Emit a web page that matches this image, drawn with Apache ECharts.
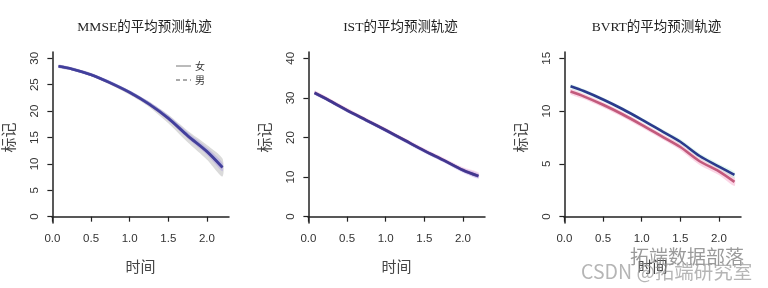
<!DOCTYPE html>
<html><head><meta charset="utf-8">
<script src="https://cdn.jsdelivr.net/npm/echarts@6/dist/echarts.min.js"></script>
<style>html,body{margin:0;padding:0;background:#fff}#c{width:768px;height:288px}</style>
</head><body><div id="c"></div><script>
// ---- data ----
const time = [0.08, 0.25, 0.5, 0.75, 1.0, 1.25, 1.5, 1.75, 2.0, 2.2];
const panelTitles = ['MMSE的平均预测轨迹', 'IST的平均预测轨迹', 'BVRT的平均预测轨迹'];
const seriesNames = ['女', '男'];
const xTicks = [0, 0.5, 1.0, 1.5, 2.0];
const yTicksMMSE = [0, 5, 10, 15, 20, 25, 30];
const yTicksIST = [0, 10, 20, 30, 40];
const yTicksBVRT = [0, 5, 10, 15];

const mmseFemale   = [28.5, 28.0, 26.9, 25.3, 23.5, 21.3, 18.6, 15.3, 12.3, 9.3];
const mmseFemaleLo = [28.2, 27.7, 26.6, 25.0, 23.1, 20.8, 17.7, 14.1, 10.8, 7.6];
const mmseFemaleHi = [28.8, 28.3, 27.2, 25.6, 23.9, 21.8, 19.3, 16.3, 13.6, 11.0];
const mmseMale     = [28.5, 28.0, 26.9, 25.4, 23.6, 21.4, 18.7, 15.4, 12.4, 9.4];
const mmseMaleLo   = [28.2, 27.7, 26.6, 25.1, 23.3, 21.0, 18.2, 14.8, 11.7, 8.6];
const mmseMaleHi   = [28.8, 28.3, 27.2, 25.7, 23.9, 21.8, 19.2, 16.0, 13.1, 10.2];

const istFemale    = [31.3, 29.6, 26.9, 24.4, 21.9, 19.3, 16.7, 14.3, 11.8, 10.3];
const istFemaleLo  = [30.9, 29.2, 26.5, 24.0, 21.5, 18.9, 16.3, 13.8, 11.3, 9.7];
const istFemaleHi  = [31.9, 30.2, 27.5, 24.9, 22.4, 19.8, 17.3, 14.9, 12.5, 11.2];
const istMale      = [31.2, 29.5, 26.8, 24.3, 21.8, 19.2, 16.6, 14.2, 11.7, 10.2];
const istMaleLo    = [30.8, 29.1, 26.4, 23.9, 21.3, 18.7, 16.1, 13.7, 11.1, 9.6];
const istMaleHi    = [31.6, 29.9, 27.2, 24.7, 22.2, 19.6, 17.1, 14.7, 12.3, 10.9];

const bvrtFemale   = [11.85, 11.4, 10.6, 9.7, 8.7, 7.65, 6.6, 5.25, 4.3, 3.3];
const bvrtFemaleLo = [11.6, 11.15, 10.35, 9.45, 8.45, 7.4, 6.3, 4.9, 3.95, 2.9];
const bvrtFemaleHi = [12.1, 11.65, 10.85, 9.95, 8.95, 7.9, 6.9, 5.55, 4.65, 3.7];
const bvrtMale     = [12.35, 11.9, 11.1, 10.2, 9.2, 8.15, 7.1, 5.75, 4.75, 3.95];
const bvrtMaleLo   = [12.15, 11.7, 10.9, 10.0, 9.0, 7.95, 6.85, 5.5, 4.5, 3.65];
const bvrtMaleHi   = [12.55, 12.1, 11.3, 10.4, 9.4, 8.35, 7.35, 6.0, 5.0, 4.25];

// ---- build ----
const panels = [
  {title: panelTitles[0], ticks: yTicksMMSE, f: mmseFemale, fLo: mmseFemaleLo, fHi: mmseFemaleHi, m: mmseMale, mLo: mmseMaleLo, mHi: mmseMaleHi,
   fBand: 'rgba(150,150,150,0.35)', mBand: 'rgba(140,120,235,0.28)', fLine: '#5a4a9a', mLine: '#3a3c9c'},
  {title: panelTitles[1], ticks: yTicksIST, f: istFemale, fLo: istFemaleLo, fHi: istFemaleHi, m: istMale, mLo: istMaleLo, mHi: istMaleHi,
   fBand: 'rgba(240,160,200,0.35)', mBand: 'rgba(150,140,240,0.28)', fLine: '#5a3a8a', mLine: '#3a3590'},
  {title: panelTitles[2], ticks: yTicksBVRT, f: bvrtFemale, fLo: bvrtFemaleLo, fHi: bvrtFemaleHi, m: bvrtMale, mLo: bvrtMaleLo, mHi: bvrtMaleHi,
   fBand: 'rgba(245,150,190,0.40)', mBand: 'rgba(170,235,215,0.35)', fLine: '#c25a7c', mLine: '#2b3a8c'}
];
const lefts = [52, 308, 564];
const gridW = 177, gridTop = 52, gridH = 171;
const pair = (xs, ys) => xs.map((x, i) => [x, ys[i]]);

function bandSeries(k, lo, hi, color) {
  return {
    type: 'custom', xAxisIndex: k, yAxisIndex: k, silent: true, z: 1,
    data: time.map((x, i) => [x, lo[i], hi[i]]),
    renderItem: (params, api) => {
      if (params.dataIndex !== 0) return null;
      const up = time.map((x, i) => api.coord([x, hi[i]]));
      const dn = time.map((x, i) => api.coord([x, lo[i]])).reverse();
      return {type: 'polygon', shape: {points: up.concat(dn), smooth: 0.25},
        style: {fill: color, stroke: null}};
    }
  };
}

const grids = [], xAxes = [], yAxes = [], titles = [], series = [];
const labelColor = '#333';
panels.forEach((p, k) => {
  grids.push({left: lefts[k], top: gridTop, width: gridW, height: gridH});
  titles.push({text: p.title, left: lefts[k] + gridW / 2 - 1, top: 16, textAlign: 'center',
    textStyle: {fontSize: 13.5, fontWeight: 'normal', color: '#222', fontFamily: 'Liberation Serif, Noto Sans CJK SC'}});
  xAxes.push({type: 'value', gridIndex: k, min: -0.005, max: 2.285,
    name: '时间', nameLocation: 'middle', nameGap: 36,
    nameTextStyle: {fontSize: 15, color: '#444', fontFamily: 'Noto Sans CJK SC'},
    axisLine: {show: true, lineStyle: {color: '#222', width: 1.5}},
    axisTick: {show: true, length: 5, lineStyle: {color: '#222', width: 1.2}, customValues: xTicks},
    axisLabel: {customValues: xTicks, margin: 10, fontSize: 11.5, color: labelColor, fontFamily: 'Liberation Sans',
      formatter: v => v.toFixed(1)},
    splitLine: {show: false}});
  const t = p.ticks, top = t[t.length - 1], ext = top * 0.04;
  yAxes.push({type: 'value', gridIndex: k, min: -ext, max: top + ext,
    name: '标记', nameLocation: 'middle', nameGap: 36, nameRotate: 90,
    nameTextStyle: {fontSize: 15, color: '#444', fontFamily: 'Noto Sans CJK SC'},
    axisLine: {show: true, lineStyle: {color: '#222', width: 1.5}},
    axisTick: {show: true, length: 5, lineStyle: {color: '#222', width: 1.2}, customValues: t},
    axisLabel: {customValues: t, rotate: 90, margin: 11, fontSize: 11.5, color: labelColor, fontFamily: 'Liberation Sans'},
    splitLine: {show: false}});
  series.push(bandSeries(k, p.fLo, p.fHi, p.fBand));
  series.push(bandSeries(k, p.mLo, p.mHi, p.mBand));
  series.push({type: 'line', name: seriesNames[0], xAxisIndex: k, yAxisIndex: k, smooth: 0.3, showSymbol: false,
    data: pair(time, p.f), lineStyle: {color: p.fLine, width: 2.6}, z: 3});
  series.push({type: 'line', name: seriesNames[1], xAxisIndex: k, yAxisIndex: k, smooth: 0.3, showSymbol: false,
    data: pair(time, p.m), lineStyle: {color: p.mLine, width: 2.6, opacity: k === 2 ? 1 : 0.75}, z: 4});
});

const chart = echarts.init(document.getElementById('c'), null, {renderer: 'canvas'});
chart.setOption({
  backgroundColor: '#fff',
  animation: false,
  title: titles,
  grid: grids, xAxis: xAxes, yAxis: yAxes, series: series,
  graphic: [
    {type: 'line', shape: {x1: 176, y1: 66, x2: 191, y2: 66}, style: {stroke: '#777', lineWidth: 1}},
    {type: 'line', shape: {x1: 176, y1: 80, x2: 191, y2: 80}, style: {stroke: '#555', lineWidth: 1, lineDash: [4, 3]}},
    {type: 'text', x: 195, y: 66, style: {text: seriesNames[0], fontSize: 10, fill: '#333', verticalAlign: 'middle', fontFamily: 'Noto Sans CJK SC'}},
    {type: 'text', x: 195, y: 80, style: {text: seriesNames[1], fontSize: 10, fill: '#333', verticalAlign: 'middle', fontFamily: 'Noto Sans CJK SC'}},
    {type: 'text', x: 630, y: 257, z: 100, style: {text: '拓端数据部落', fontSize: 19, fill: 'rgba(120,120,120,0.75)', verticalAlign: 'middle', fontFamily: 'Noto Sans CJK SC'}},
    {type: 'text', x: 581, y: 272, z: 100, style: {text: 'CSDN @拓端研究室', fontSize: 19.5, fill: 'rgba(150,150,150,0.7)', verticalAlign: 'middle', fontFamily: 'Noto Sans CJK SC'}}
  ]
});
</script></body></html>
